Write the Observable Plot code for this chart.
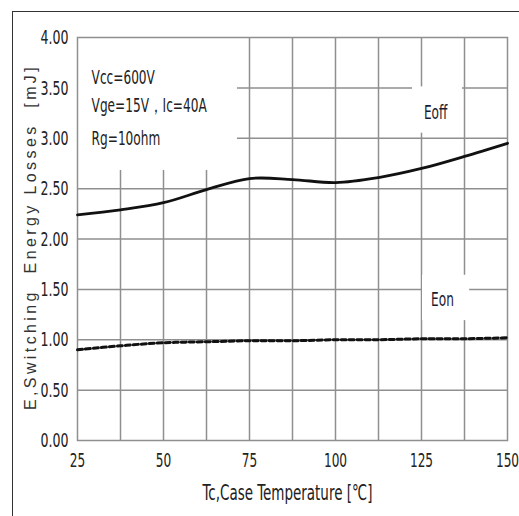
<!DOCTYPE html>
<html>
<head>
<meta charset="utf-8">
<script src="https://cdn.jsdelivr.net/npm/d3@7"></script>
<script src="https://cdn.jsdelivr.net/npm/@observablehq/plot@0.6"></script>
<style>
  html, body { margin: 0; padding: 0; background: #fff; }
  #wrap { position: relative; width: 519px; height: 516px; overflow: hidden; }
  #outer { position: absolute; left: 12px; top: 11px; right: -2px; bottom: -2px;
           border-left: 1.5px solid #333; border-top: 1.5px solid #333; pointer-events: none; }
</style>
</head>
<body>
<div id="wrap"><div id="outer"></div></div>
<script>
const temps = [25, 37.5, 50, 62.5, 75, 87.5, 100, 112.5, 125, 137.5, 150];
const eoff  = [2.24, 2.29, 2.36, 2.49, 2.60, 2.59, 2.56, 2.61, 2.70, 2.82, 2.95];
const eon   = [0.90, 0.94, 0.97, 0.98, 0.99, 0.99, 1.00, 1.00, 1.01, 1.01, 1.02];
const xTicks = [25, 50, 75, 100, 125, 150];
const xGrid = [37.5, 50, 62.5, 75, 87.5, 100, 112.5, 125, 137.5];
const yTicks = [0, 0.5, 1, 1.5, 2, 2.5, 3, 3.5, 4];
const yTickLabels = ["0.00", "0.50", "1.00", "1.50", "2.00", "2.50", "3.00", "3.50", "4.00"];
const notes = ["Vcc=600V", "Vge=15V，Ic=40A", "Rg=10ohm"];
const seriesNames = ["Eoff", "Eon"];
const xTitle = "Tc,Case Temperature [℃]";
const yTitle = "E,Switching  Energy Losses  [mJ]";

const eoffData = temps.map((t, i) => ({t, v: eoff[i]}));
const eonData = temps.map((t, i) => ({t, v: eon[i]}));
const yTickData = yTicks.map((v, i) => ({v, s: yTickLabels[i]}));

const NARROW = '"Liberation Sans Narrow", "Arial Narrow", "DejaVu Sans Condensed", sans-serif';
const grid = "#8f8f8f";

const chart = Plot.plot({
  width: 519,
  height: 516,
  marginLeft: 77,
  marginRight: 12,
  marginTop: 37,
  marginBottom: 76,
  style: {background: "transparent", overflow: "visible"},
  x: {domain: [25, 150], axis: null},
  y: {domain: [0, 4], axis: null},
  marks: [
    Plot.ruleX(xGrid, {stroke: grid, strokeWidth: 1.5}),
    Plot.ruleY(yTicks.slice(1, -1), {stroke: grid, strokeWidth: 1.5}),
    // white label boxes masking the grid
    Plot.rect([0], {x1: 25, x2: 71.5, y1: 2.68, y2: 4, fill: "white"}),
    Plot.rect([0], {x1: 122.4, x2: 136.9, y1: 3.05, y2: 3.51, fill: "white"}),
    Plot.rect([0], {x1: 125.3, x2: 139.0, y1: 1.19, y2: 1.64, fill: "white"}),
    Plot.frame({stroke: grid, strokeWidth: 1.5}),
    Plot.line(eoffData, {x: "t", y: "v", curve: "catmull-rom", stroke: "#111", strokeWidth: 2.8}),
    Plot.line(eonData, {x: "t", y: "v", curve: "catmull-rom", stroke: "#111", strokeWidth: 3, strokeDasharray: "5,3"}),
    // tick labels
    Plot.text(xTicks, {x: d => d, frameAnchor: "bottom", dy: 24, text: d => String(d),
      fontFamily: NARROW, fontSize: 13.5, fill: "#222"}),
    Plot.text(yTickData, {y: "v", frameAnchor: "left", dx: -9, textAnchor: "end", text: "s",
      fontFamily: NARROW, fontSize: 14, fill: "#222"}),
    // annotations
    Plot.text([notes[0]], {x: 29.1, y: 3.60, textAnchor: "start", fontFamily: NARROW, fontSize: 13.5, fill: "#222"}),
    Plot.text([notes[1]], {x: 29.1, y: 3.33, textAnchor: "start", fontFamily: NARROW, fontSize: 13.5, fill: "#222"}),
    Plot.text([notes[2]], {x: 29.1, y: 3.00, textAnchor: "start", fontFamily: NARROW, fontSize: 13.5, fill: "#222"}),
    Plot.text([seriesNames[0]], {x: 129.1, y: 3.26, fontFamily: NARROW, fontSize: 13.5, fill: "#1a1a30"}),
    Plot.text([seriesNames[1]], {x: 131.1, y: 1.40, fontFamily: NARROW, fontSize: 13.5, fill: "#1a1a30"}),
    // axis titles
    Plot.text([xTitle], {frameAnchor: "bottom", textAnchor: "middle", dx: -5, dy: 57, fontFamily: NARROW, fontSize: 15, fill: "#222"}),
    Plot.text([yTitle], {frameAnchor: "left", textAnchor: "middle", dx: -47, dy: -2, rotate: -90,
      fontFamily: "Liberation Sans, Arial, sans-serif", fontSize: 16, fill: "#333"})
  ]
});

chart.style.position = "absolute";
chart.style.left = "0";
chart.style.top = "0";
document.getElementById("wrap").insertBefore(chart, document.getElementById("outer"));

// stretch the narrow texts vertically (about their own centre) to match the tall condensed glyphs
chart.querySelectorAll("text").forEach(t => {
  const g = t.closest("g[font-family]");
  const ff = g ? g.getAttribute("font-family") : "";
  if (ff.includes("Narrow")) {
    const bb = t.getBBox();
    const cy = bb.y + bb.height / 2;
    const tr = t.getAttribute("transform") || "";
    t.setAttribute("transform", `${tr} translate(0,${cy}) scale(1,1.45) translate(0,${-cy})`);
  } else if (ff) {
    t.setAttribute("letter-spacing", "3.4");
  }
});
</script>
</body>
</html>
